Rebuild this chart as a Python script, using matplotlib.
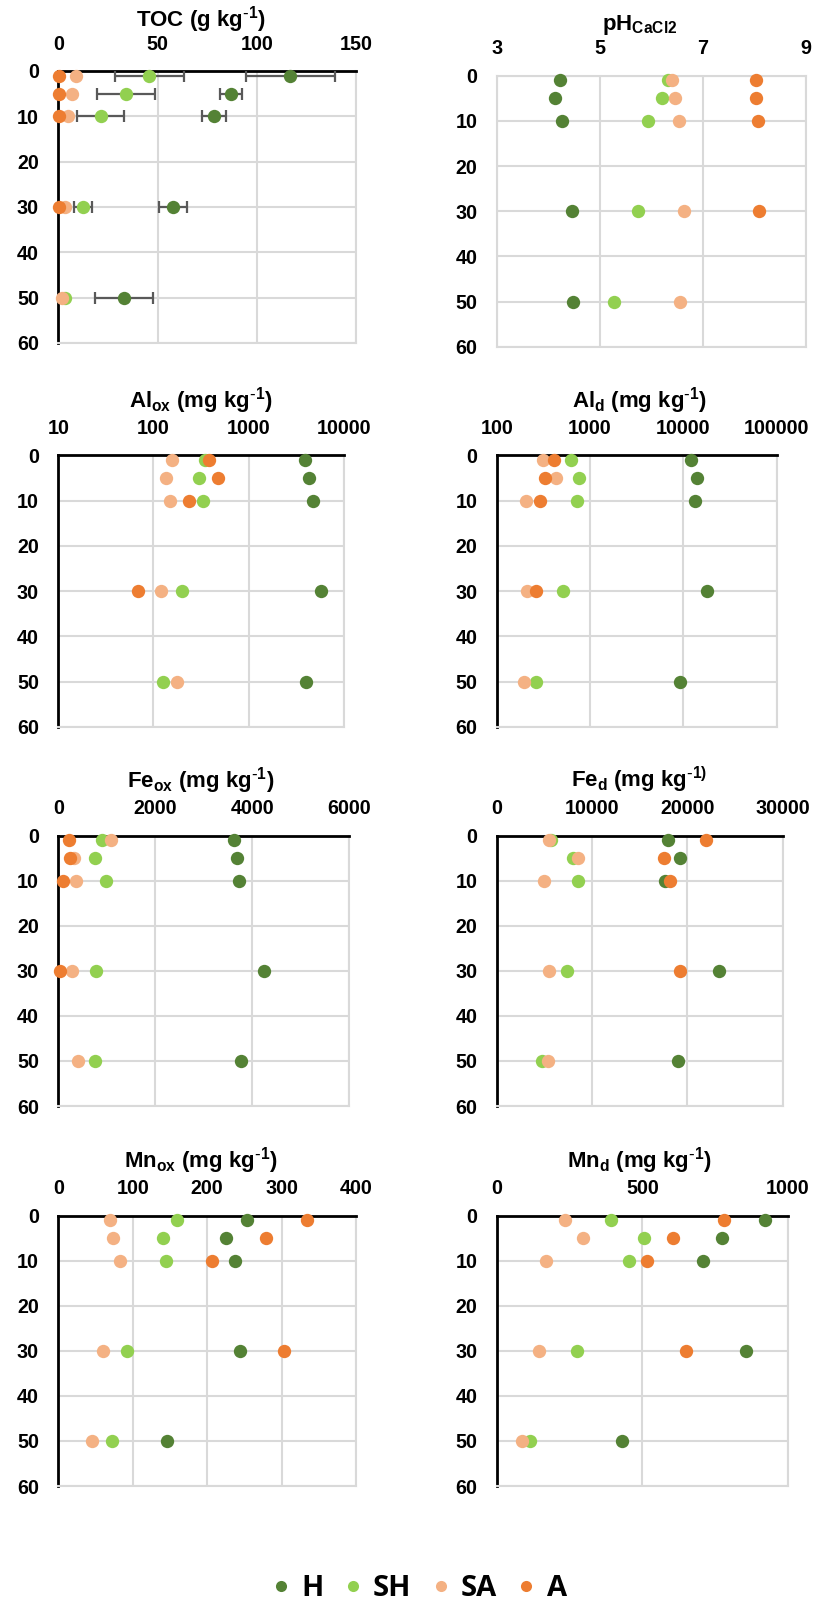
import numpy as np
import matplotlib
matplotlib.use("Agg")
import matplotlib.pyplot as plt
from matplotlib.lines import Line2D
from matplotlib.ticker import NullLocator, FixedLocator, FixedFormatter

nan = np.nan

# ---------------- data ----------------
depth = [1, 5, 10, 30, 50]
series = ["H", "SH", "SA", "A"]

toc_H = [116.9, 87.0, 78.4, 57.9, 33.1]
toc_H_err = [22.4, 5.5, 6.0, 7.0, 14.4]
toc_SH = [45.9, 34.1, 21.4, 12.3, 3.4]
toc_SH_err = [17.4, 14.7, 11.8, 4.6, 0.0]
toc_SA = [8.9, 6.7, 5.0, 3.4, 1.7]
toc_A = [0.2, 0.2, 0.2, 0.2, nan]

ph_H = [4.23, 4.13, 4.27, 4.46, 4.47]
ph_SH = [6.32, 6.21, 5.94, 5.73, 5.28]
ph_SA = [6.39, 6.46, 6.54, 6.63, 6.55]
ph_A = [8.02, 8.03, 8.07, 8.09, nan]

alox_H = [3963, 4295, 4730, 5785, 4056]
alox_SH = [351, 299, 335, 201, 126]
alox_SA = [156, 136, 148, 119, 179]
alox_A = [384, 481, 237, 68.5, nan]

ald_H = [11990, 13900, 13450, 17800, 9140]
ald_SH = [625, 756, 726, 514, 262]
ald_SA = [313, 429, 208, 211, 196]
ald_A = [411, 332, 291, 266, nan]

feox_H = [3629, 3677, 3732, 4247, 3760]
feox_SH = [893, 763, 983, 770, 756]
feox_SA = [1086, 323, 364, 275, 405]
feox_A = [227, 241, 103, 41, nan]

fed_H = [17940, 19270, 17620, 23290, 19020]
fed_SH = [5665, 7970, 8530, 7410, 4755]
fed_SA = [5455, 8570, 4930, 5455, 5350]
fed_A = [22000, 17520, 18220, 19200, nan]

mnox_H = [254, 225.3, 237.8, 243.7, 145.6]
mnox_SH = [159.9, 140.2, 145.1, 91.8, 72.6]
mnox_SA = [69, 73, 83.3, 60, 45.2]
mnox_A = [334, 278.6, 207, 303.7, nan]

mnd_H = [922, 772, 708, 857, 429]
mnd_SH = [392, 506, 453, 275, 116]
mnd_SA = [233, 297, 170, 144, 88]
mnd_A = [779, 605, 516, 649, nan]

depth_ticks = [0, 10, 20, 30, 40, 50, 60]

# ---------------- style ----------------
colors = {"H": "#548235", "SH": "#92D050", "SA": "#F4B183", "A": "#ED7D31"}
GRID = "#D9D9D9"
FONT = "Liberation Sans"
plt.rcParams["font.family"] = [FONT, "DejaVu Sans"]

W, H = 817, 1602
fig = plt.figure(figsize=(W / 100, H / 100), dpi=100)


def px_axes(l, t, r, b):
    return fig.add_axes([l / W, 1 - b / H, (r - l) / W, (b - t) / H])


SUP = r"$\mathregular{^{\text{-}1}}$"
SUP_FE = r"$\mathregular{^{\text{-}1)}}$"

panels = [
    dict(title="TOC (g kg" + SUP + ")", box=(58.3, 71, 356, 343), tx=200.7, ty=26.7,
         data=[toc_H, toc_SH, toc_SA, toc_A], err=[toc_H_err, toc_SH_err, None, None],
         xlim=(0, 150), ticks=[0, 50, 100, 150], log=False, black=True),
    dict(title=r"pH$\mathregular{_{CaCl2}}$", box=(497, 75.7, 806, 346.7), tx=639.3, ty=30,
         data=[ph_H, ph_SH, ph_SA, ph_A], err=None,
         xlim=(3, 9), ticks=[3, 5, 7, 9], log=False, black=False),
    dict(title=r"Al$\mathregular{_{ox}}$ (mg kg" + SUP + ")", box=(58.3, 455.3, 343.7, 727), tx=200.7, ty=407.3,
         data=[alox_H, alox_SH, alox_SA, alox_A], err=None,
         xlim=(10, 10000), ticks=[10, 100, 1000, 10000], log=True, black=True),
    dict(title=r"Al$\mathregular{_{d}}$ (mg kg" + SUP + ")", box=(496.7, 455.3, 776.7, 727), tx=639.3, ty=407.3,
         data=[ald_H, ald_SH, ald_SA, ald_A], err=None,
         xlim=(100, 100000), ticks=[100, 1000, 10000, 100000], log=True, black=True),
    dict(title=r"Fe$\mathregular{_{ox}}$ (mg kg" + SUP + ")", box=(58.3, 835.7, 349.3, 1106), tx=200.7, ty=787.3,
         data=[feox_H, feox_SH, feox_SA, feox_A], err=None,
         xlim=(0, 6000), ticks=[0, 2000, 4000, 6000], log=False, black=True),
    dict(title=r"Fe$\mathregular{_{d}}$ (mg kg" + SUP_FE, box=(496.7, 835.7, 782.7, 1106), tx=639.3, ty=787.3,
         data=[fed_H, fed_SH, fed_SA, fed_A], err=None,
         xlim=(0, 30000), ticks=[0, 10000, 20000, 30000], log=False, black=True),
    dict(title=r"Mn$\mathregular{_{ox}}$ (mg kg" + SUP + ")", box=(58.3, 1215.7, 356, 1486), tx=200.7, ty=1167.3,
         data=[mnox_H, mnox_SH, mnox_SA, mnox_A], err=None,
         xlim=(0, 400), ticks=[0, 100, 200, 300, 400], log=False, black=True),
    dict(title=r"Mn$\mathregular{_{d}}$ (mg kg" + SUP + ")", box=(496.7, 1215.7, 788, 1486), tx=639.3, ty=1167.3,
         data=[mnd_H, mnd_SH, mnd_SA, mnd_A], err=None,
         xlim=(0, 1000), ticks=[0, 500, 1000], log=False, black=True),
]

for p in panels:
    ax = px_axes(*p["box"])
    if p["log"]:
        ax.set_xscale("log")
    ax.set_xlim(*p["xlim"])
    ax.set_ylim(60, 0)
    ax.xaxis.set_major_locator(FixedLocator(p["ticks"]))
    ax.xaxis.set_major_formatter(FixedFormatter([str(t) for t in p["ticks"]]))
    ax.xaxis.set_minor_locator(NullLocator())
    ax.set_yticks(depth_ticks)
    ax.set_yticklabels([str(t) for t in depth_ticks])
    ax.xaxis.tick_top()
    ax.tick_params(axis="x", length=0, pad=12.5, labelsize=14.2)
    ax.tick_params(axis="y", length=0, pad=14.0, labelsize=14.2)
    for lab in ax.get_xticklabels() + ax.get_yticklabels():
        lab.set_fontweight("bold")
    ax.grid(True, color=GRID, linewidth=1.5, zorder=0)
    ax.set_axisbelow(True)
    for side in ["right", "bottom"]:
        ax.spines[side].set_color(GRID)
        ax.spines[side].set_linewidth(1.5)
    for side in ["left", "top"]:
        if p["black"]:
            ax.spines[side].set_color("black")
            ax.spines[side].set_linewidth(2)
        else:
            ax.spines[side].set_color(GRID)
            ax.spines[side].set_linewidth(1.5)
    # error bars first (under markers)
    if p["err"] is not None:
        for vals, e in zip(p["data"], p["err"]):
            if e is None:
                continue
            ax.errorbar(vals, depth, xerr=e, fmt="none", ecolor="#595959",
                        elinewidth=1.6, capsize=4, capthick=1.6, zorder=3)
    for s, vals in zip(series, p["data"]):
        ax.plot(vals, depth, linestyle="none", marker="o", markersize=9.6,
                markerfacecolor=colors[s], markeredgecolor=colors[s],
                markeredgewidth=0, zorder=4, clip_on=False)
    fig.text(p["tx"] / W, 1 - p["ty"] / H, p["title"], ha="center", va="baseline",
             fontsize=16, fontweight="bold", family=FONT)

handles = [Line2D([], [], linestyle="none", marker="o", markersize=8,
                  markerfacecolor=colors[s], markeredgewidth=0) for s in series]
leg = fig.legend(handles, series, loc="center", ncol=4, frameon=False,
                 bbox_to_anchor=(421 / W, 1 - 1589 / H),
                 prop=dict(family=["Open Sans", "DejaVu Sans"], size=21, weight="bold"),
                 handlelength=0.4, handletextpad=0.5, columnspacing=0.8,
                 borderpad=0, borderaxespad=0)

fig.savefig("out.png", dpi=100)
